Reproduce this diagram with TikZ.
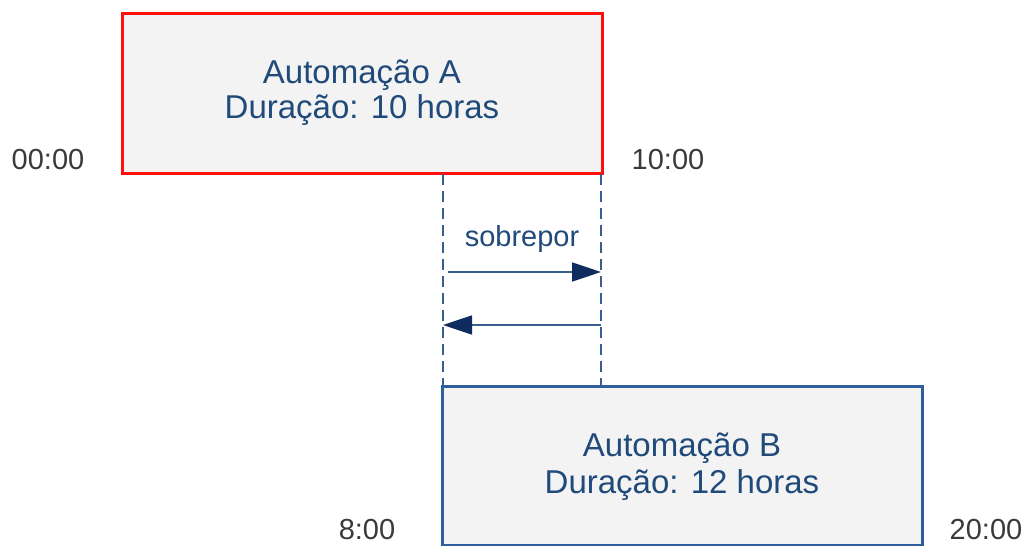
\documentclass[tikz,border=0pt]{standalone}
\usepackage{fontspec}
\setmainfont{Liberation Sans}
\usetikzlibrary{arrows.meta}
\definecolor{boxfill}{HTML}{F3F3F3}
\definecolor{redline}{HTML}{FF1010}
\definecolor{blueline}{HTML}{2F5E9C}
\definecolor{txtblue}{HTML}{1F4A7A}
\definecolor{dashcol}{HTML}{3A5F8C}
\definecolor{tipcol}{HTML}{0E2D5E}
\definecolor{timecol}{HTML}{3A3A3A}
\begin{document}
\begin{tikzpicture}[x=1pt,y=-1pt,
  taskbox/.style={draw, line width=3pt, fill=boxfill, inner sep=0pt},
  tasktext/.style={text=txtblue, align=center, inner sep=0pt},
  timelbl/.style={text=timecol, font=\fontsize{29}{31}\selectfont, inner sep=0pt},
  guide/.style={draw=dashcol, line width=1.8pt, dash pattern=on 11pt off 6pt},
  span/.style={draw=dashcol, line width=1.8pt, -{Triangle[length=29pt,width=19pt,fill=tipcol,color=tipcol]}}]
\useasboundingbox (0,0) rectangle (1026,546);
% boxes
\path[taskbox, draw=redline] (122,13) rectangle (602,173);
\node[tasktext, font=\fontsize{33}{35}\selectfont] (A) at (362,93) {Automação A\\Duração: 10 horas};
\path[taskbox, draw=blueline] (442,386) rectangle (922,545);
\node[tasktext, font=\fontsize{33}{37}\selectfont] (B) at (682,467) {Automação B\\Duração: 12 horas};
% guide lines
\coordinate (g1t) at (443,174);
\coordinate (g1b) at (443,385);
\coordinate (g2t) at (601,174);
\coordinate (g2b) at (601,385);
\draw[guide] (g1t) -- (g1b);
\draw[guide] (g2t) -- (g2b);
% arrows
\coordinate (a1s) at (448,272);
\coordinate (a1e) at (601,272);
\coordinate (a2s) at (601,325);
\coordinate (a2e) at (443,325);
\draw[span] (a1s) -- (a1e);
\draw[span] (a2s) -- (a2e);
\node[text=txtblue, font=\fontsize{29}{31}\selectfont] (sob) at (522,239) {sobrepor};
% time labels
\node[timelbl] (t0) at (48,160) {00:00};
\node[timelbl] (t10) at (668,160) {10:00};
\node[timelbl] (t8) at (367,530) {8:00};
\node[timelbl] (t20) at (986,530) {20:00};
\end{tikzpicture}
\end{document}
